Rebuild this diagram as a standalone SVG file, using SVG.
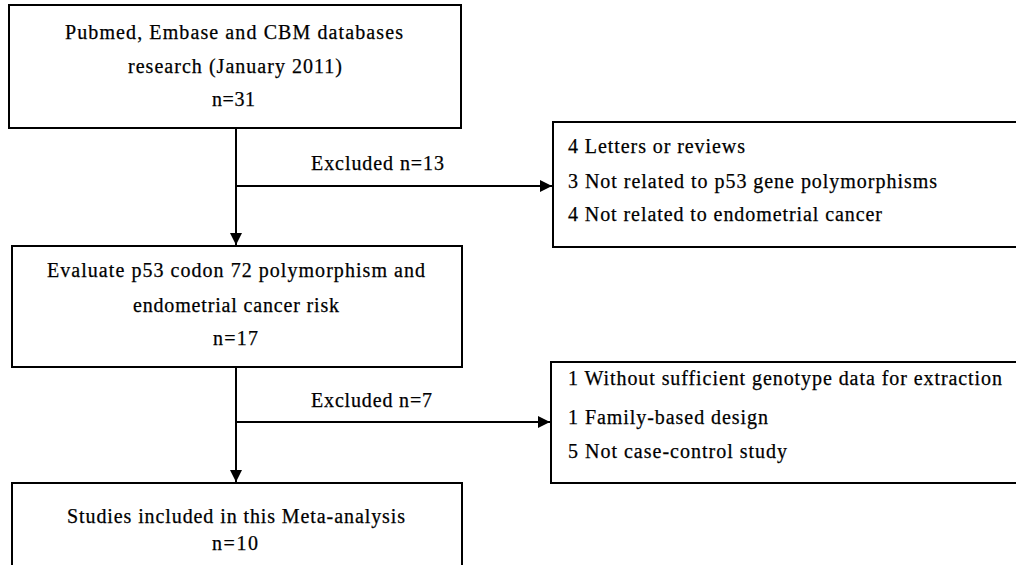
<svg xmlns="http://www.w3.org/2000/svg" width="1016" height="565" viewBox="0 0 1016 565">
<defs>
<style>
.box{fill:#fff;stroke:#000;stroke-width:2}
.t{font-family:"Liberation Serif","Times New Roman",serif;font-size:20px;fill:#000;stroke:#000;stroke-width:0.25}
.ln{stroke:#000;stroke-width:2;fill:none}
</style>
<marker id="ah" viewBox="0 0 12 12" refX="12" refY="6" markerWidth="12" markerHeight="12" markerUnits="userSpaceOnUse" orient="auto">
<path d="M0,0 L12,6 L0,12 Z" fill="#000"/>
</marker>
</defs>
<rect x="0" y="0" width="1016" height="565" fill="#fff"/>
<g id="connectors">
<line class="ln" x1="236" y1="128" x2="236" y2="245" marker-end="url(#ah)"/>
<line class="ln" x1="236" y1="186" x2="552" y2="186" marker-end="url(#ah)"/>
<line class="ln" x1="236" y1="367" x2="236" y2="482" marker-end="url(#ah)"/>
<line class="ln" x1="236" y1="422" x2="550" y2="422" marker-end="url(#ah)" stroke-width="1.5"/>
<text class="t" x="311" y="170" textLength="133" lengthAdjust="spacing">Excluded n=13</text>
<text class="t" x="311" y="407" textLength="121" lengthAdjust="spacing">Excluded n=7</text>
</g>
<g id="search">
<rect class="box" x="9" y="5" width="452" height="123"/>
<text class="t" x="65" y="39" textLength="338" lengthAdjust="spacing">Pubmed, Embase and CBM databases</text>
<text class="t" x="128" y="73" textLength="214" lengthAdjust="spacing">research (January 2011)</text>
<text class="t" x="212" y="106" textLength="43" lengthAdjust="spacing">n=31</text>
</g>
<g id="excluded1">
<rect class="box" x="553" y="122" width="470" height="125"/>
<text class="t" x="568" y="153" textLength="177" lengthAdjust="spacing">4 Letters or reviews</text>
<text class="t" x="568" y="188" textLength="369" lengthAdjust="spacing">3 Not related to p53 gene polymorphisms</text>
<text class="t" x="568" y="221" textLength="314" lengthAdjust="spacing">4 Not related to endometrial cancer</text>
</g>
<g id="evaluate">
<rect class="box" x="12" y="246" width="450" height="121"/>
<text class="t" x="47" y="277" textLength="378" lengthAdjust="spacing">Evaluate p53 codon 72 polymorphism and</text>
<text class="t" x="133" y="312" textLength="206" lengthAdjust="spacing">endometrial cancer risk</text>
<text class="t" x="213" y="345" textLength="45" lengthAdjust="spacing">n=17</text>
</g>
<g id="excluded2">
<rect class="box" x="551" y="362" width="472" height="121"/>
<text class="t" x="568" y="385" textLength="434" lengthAdjust="spacing">1 Without sufficient genotype data for extraction</text>
<text class="t" x="568" y="424" textLength="200" lengthAdjust="spacing">1 Family-based design</text>
<text class="t" x="568" y="458" textLength="219" lengthAdjust="spacing">5 Not case-control study</text>
</g>
<g id="included">
<rect class="box" x="12" y="483" width="450" height="90"/>
<text class="t" x="67" y="523" textLength="338" lengthAdjust="spacing">Studies included in this Meta-analysis</text>
<text class="t" x="212" y="550" textLength="46" lengthAdjust="spacing">n=10</text>
</g>
</svg>
